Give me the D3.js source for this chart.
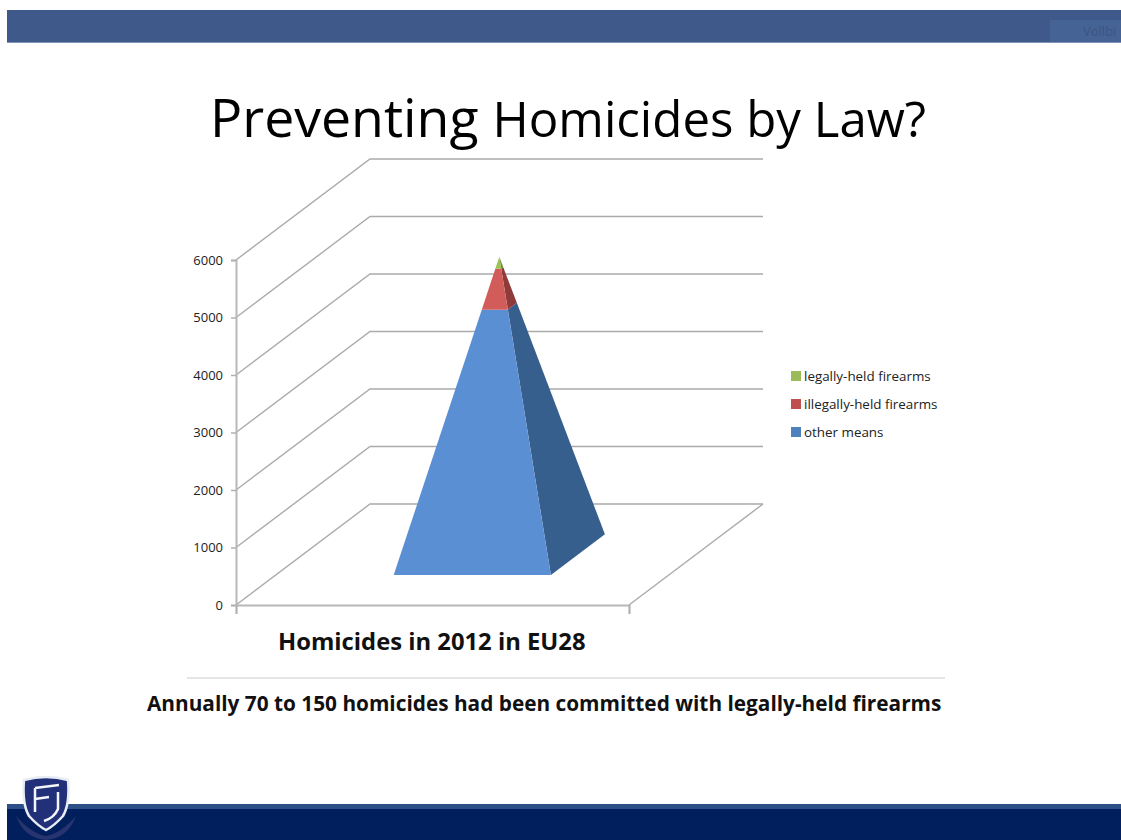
<!DOCTYPE html>
<html>
<head>
<meta charset="utf-8">
<script src="https://cdn.jsdelivr.net/npm/d3@7"></script>
<style>
    html, body {margin: 0; padding: 0; background: #fff;}
    svg {display: block;}
    text {font-family: "Open Sans", "Noto Sans", sans-serif;}
</style>
</head>
<body>
<svg id="slide" width="1121" height="840"></svg>
<script>
// stacked from bottom to top
const seriesNames = ["other means", "illegally-held firearms", "legally-held firearms"];
const seriesValues = [4320, 665, 195];
const frontColors = ["#5b8fd3", "#d25c5a", "#9cc450"];
const sideColors = ["#375f8e", "#8e3b3a", "#6b8a38"];
const legendColors = ["#4f81bd", "#c0504d", "#9bbb59"];
const yTicks = [0, 1000, 2000, 3000, 4000, 5000, 6000];

const svg = d3.select("#slide");

// Slide frame
svg.append("rect").attr("x", 7).attr("y", 10).attr("width", 1114).attr("height", 33).attr("fill", "#3f5a8a");
svg.append("rect").attr("x", 7).attr("y", 42).attr("width", 1114).attr("height", 1).attr("fill", "#7f95b8");
svg.append("rect").attr("x", 1050).attr("y", 20).attr("width", 71).attr("height", 22).attr("fill", "#456394");
svg.append("text").attr("x", 1083).attr("y", 36).attr("font-size", 13).attr("fill", "#3c5583").text("Vollbi");

svg.append("rect").attr("x", 7).attr("y", 804).attr("width", 1114).attr("height", 36).attr("fill", "#001f5c");
svg.append("rect").attr("x", 7).attr("y", 804).attr("width", 1114).attr("height", 5).attr("fill", "#2b4f86");

// Logo
const logo = svg.append("g").attr("transform", "translate(46,812)");
logo.append("path")
    .attr("d", "M-22,-32 Q0,-38 22,-32 Q24,-8 17,4 Q8,14 0,18 Q-8,14 -17,4 Q-24,-8 -22,-32 Z")
    .attr("fill", "#22307a").attr("stroke", "#e8edf5").attr("stroke-width", 2.5);
logo.append("path")
    .attr("d", "M-30,4 Q-14,22 0,24 Q14,22 30,4 Q22,26 0,28 Q-22,26 -30,4 Z")
    .attr("fill", "#27346f");
logo.append("path")
    .attr("d", "M-11,-24 L13,-27 M-11,-24 L-11,0 M-11,-13 L3,-15 M12,-20 L12,-3 Q8,6 -2,9")
    .attr("fill", "none").attr("stroke", "#f2f5fa").attr("stroke-width", 2.5);

// Title
const title = svg.append("text").attr("x", 210).attr("y", 137).attr("fill", "#000");
title.append("tspan").attr("font-size", 53.6).text("Preventing ");
title.append("tspan").attr("font-size", 49.2).text("Homicides by Law?");

// Scales
const y = d3.scaleLinear().domain([0, 6000]).range([605, 260]);
const x = d3.scaleLinear().domain([0, 1]).range([236, 629]);
const depthX = d3.scaleLinear().domain([0, 1]).range([0, 134]);
const depthY = d3.scaleLinear().domain([0, 1]).range([0, -101]);

function project(u, d, v) {
    return [x(u) + depthX(d), y(v) + depthY(d)];
}

const line = d3.line();
const gridColor = "#ababab";

// Walls
const grid = svg.append("g").attr("fill", "none").attr("stroke", gridColor).attr("stroke-width", 1.4);
yTicks.forEach(t => {
    grid.append("path").attr("d", line([project(0, 0, t), project(0, 1, t), project(1, 1, t)]));
});
grid.append("path").attr("d", line([project(1, 0, 0), project(1, 1, 0)]));

// Axes
const yAxis = svg.append("g")
    .attr("transform", `translate(${x(0)},0)`)
    .call(d3.axisLeft(y).tickValues(yTicks).tickSize(5).tickPadding(8).tickFormat(d3.format("d")));
const xAxis = svg.append("g")
    .attr("transform", `translate(0,${y(0)})`)
    .call(d3.axisBottom(x).tickValues([0, 1]).tickSize(9).tickFormat(""));
[yAxis, xAxis].forEach(a => {
    a.select(".domain").attr("stroke", "#b8b8b8").attr("stroke-width", 2);
    a.selectAll(".tick line").attr("stroke", "#b0b0b0").attr("stroke-width", 1.5);
});
yAxis.selectAll("text").attr("font-size", 13).attr("fill", "#222");

// Pyramid
const base = {u0: 0.3, u1: 0.7, d0: 0.297, d1: 0.7};
const total = d3.sum(seriesValues);
const apexU = (base.u0 + base.u1) / 2;
const apexD = (base.d0 + base.d1) / 2;

function corner(u, d, v) {
    const t = v / total;
    return project(u + (apexU - u) * t, d + (apexD - d) * t, v);
}

const pyramid = svg.append("g");
let level = 0;
seriesValues.forEach((val, i) => {
    const next = level + val;
    pyramid.append("path")
        .attr("d", line([corner(base.u1, base.d0, level), corner(base.u1, base.d1, level),
            corner(base.u1, base.d1, next), corner(base.u1, base.d0, next)]) + "Z")
        .attr("fill", sideColors[i]);
    pyramid.append("path")
        .attr("d", line([corner(base.u0, base.d0, level), corner(base.u1, base.d0, level),
            corner(base.u1, base.d0, next), corner(base.u0, base.d0, next)]) + "Z")
        .attr("fill", frontColors[i]);
    level = next;
});

// Legend, top entry is the top of the stack
const legendY = d3.scalePoint().domain(d3.range(seriesNames.length)).range([376, 432]);
const legend = svg.append("g");
seriesNames.slice().reverse().forEach((name, i) => {
    legend.append("rect")
        .attr("x", 791).attr("y", legendY(i) - 5)
        .attr("width", 10).attr("height", 10)
        .attr("fill", legendColors[seriesNames.length - 1 - i]);
    legend.append("text")
        .attr("x", 804).attr("y", legendY(i) + 4.5)
        .attr("font-size", 13.4).attr("fill", "#222")
        .text(name);
});

// Captions
svg.append("text").attr("x", 278).attr("y", 650)
    .attr("font-size", 23.8).attr("font-weight", "bold").attr("fill", "#111")
    .text("Homicides in 2012 in EU28");
svg.append("line").attr("x1", 187).attr("x2", 945).attr("y1", 678).attr("y2", 678)
    .attr("stroke", "#dcdcdc").attr("stroke-width", 1.5);
svg.append("text").attr("x", 147).attr("y", 711)
    .attr("font-size", 20.8).attr("font-weight", "bold").attr("fill", "#111")
    .text("Annually 70 to 150 homicides had been committed with legally-held firearms");
</script>
</body>
</html>
